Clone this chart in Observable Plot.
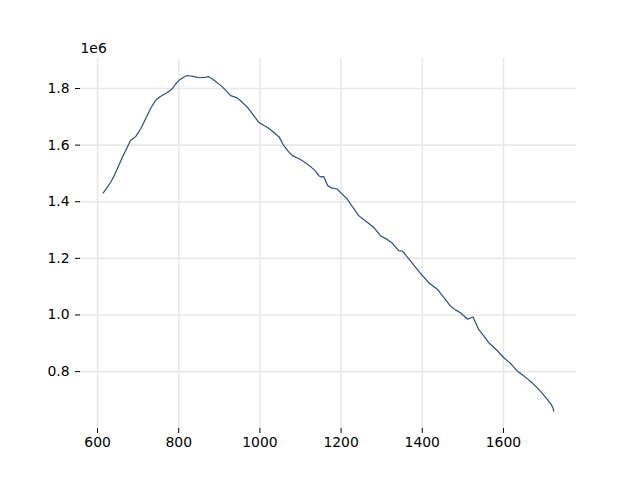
<!DOCTYPE html>
<html>
<head>
<meta charset="utf-8">
<script src="https://cdn.jsdelivr.net/npm/d3@7"></script>
<script src="https://cdn.jsdelivr.net/npm/@observablehq/plot@0.6"></script>
<style>
  html, body { margin: 0; padding: 0; background: #ffffff; }
  #chart svg { display: block; }
</style>
</head>
<body>
<div id="chart"></div>
<script>
// Series values (x, y in raw units)
const xs = [614, 622, 632, 642, 652, 662, 673, 681, 694, 706, 714, 722, 732, 743, 753, 763, 772, 784, 792, 800, 812, 821, 835, 850, 862, 874, 888, 903, 915, 928, 944, 955, 969, 983, 997, 1010, 1018, 1030, 1043, 1047, 1059, 1070, 1080, 1090, 1100, 1112, 1125, 1137, 1145, 1150, 1157, 1167, 1178, 1190, 1202, 1215, 1230, 1244, 1262, 1281, 1297, 1312, 1326, 1342, 1350, 1354, 1360, 1371, 1387, 1400, 1416, 1437, 1452, 1469, 1482, 1494, 1512, 1520, 1525, 1539, 1550, 1564, 1582, 1601, 1618, 1634, 1652, 1671, 1690, 1708, 1716, 1720, 1722, 1724];
const ys = [1431000, 1447000, 1468000, 1495000, 1527000, 1560000, 1592000, 1616000, 1630000, 1657000, 1680000, 1704000, 1733000, 1758000, 1770000, 1779000, 1786000, 1799000, 1815000, 1828000, 1840000, 1846000, 1843000, 1838000, 1839000, 1842000, 1828000, 1811000, 1795000, 1775000, 1767000, 1753000, 1734000, 1708000, 1681000, 1669000, 1663000, 1650000, 1634000, 1630000, 1598000, 1578000, 1563000, 1556000, 1549000, 1538000, 1524000, 1508000, 1492000, 1488000, 1489000, 1457000, 1448000, 1445000, 1428000, 1410000, 1378000, 1350000, 1330000, 1309000, 1280000, 1268000, 1254000, 1227000, 1226000, 1221000, 1210000, 1191000, 1162000, 1140000, 1114000, 1091000, 1064000, 1032000, 1018000, 1008000, 985000, 990000, 993000, 949000, 929000, 902000, 878000, 849000, 828000, 802000, 783000, 760000, 733000, 702000, 687000, 678000, 672000, 660000];
const xTicks = [600, 800, 1000, 1200, 1400, 1600];
const yTicks = [800000, 1000000, 1200000, 1400000, 1600000, 1800000];
const yTickLabels = ["0.8", "1.0", "1.2", "1.4", "1.6", "1.8"];
const offsetLabel = ["1e6"];

const data = xs.map((x, i) => ({x, y: ys[i]}));

const chart = Plot.plot({
  width: 640,
  height: 480,
  marginLeft: 80,
  marginRight: 64,
  marginTop: 58,
  marginBottom: 52,
  style: {fontFamily: "DejaVu Sans", fontSize: "13.9px", color: "#000", background: "#fff", overflow: "visible"},
  x: {domain: [558, 1780], label: null},
  y: {domain: [599000, 1906000], label: null},
  marks: [
    Plot.gridX(xTicks, {stroke: "#e8e8e8", strokeOpacity: 1, strokeWidth: 1.6}),
    Plot.gridY(yTicks, {stroke: "#e8e8e8", strokeOpacity: 1, strokeWidth: 1.6}),
    Plot.axisX(xTicks, {tickSize: 5, tickPadding: 4, tickFormat: d => String(d), label: null, stroke: "#000", fontSize: 13.9}),
    Plot.axisY(yTicks, {tickSize: 5, tickPadding: 6, tickFormat: (d, i) => yTickLabels[i], label: null, stroke: "#000", fontSize: 13.9}),
    Plot.line(data, {x: "x", y: "y", stroke: "#2e4d78", strokeWidth: 1.2}),
    Plot.text(offsetLabel, {frameAnchor: "top-left", text: d => d, dy: -10, textAnchor: "start", lineAnchor: "middle", fontSize: 13.9, fill: "#000"})
  ]
});
document.getElementById("chart").appendChild(chart);
</script>
</body>
</html>
